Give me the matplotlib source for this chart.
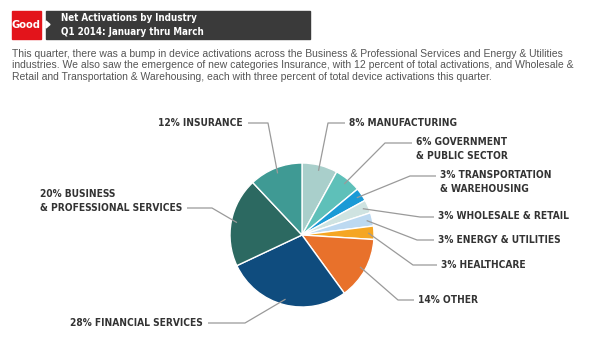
import matplotlib
matplotlib.use("Agg")
import matplotlib.pyplot as plt
from matplotlib import font_manager
import numpy as np
from matplotlib.patches import Rectangle, Polygon

# slices, clockwise from 12 o'clock
industries = ["MANUFACTURING", "GOVERNMENT\n& PUBLIC SECTOR", "TRANSPORTATION\n& WAREHOUSING",
              "WHOLESALE & RETAIL", "ENERGY & UTILITIES", "HEALTHCARE", "OTHER",
              "FINANCIAL SERVICES", "BUSINESS\n& PROFESSIONAL SERVICES", "INSURANCE"]
shares = [8, 6, 3, 3, 3, 3, 14, 28, 20, 12]
colours = ["#a9cfcb", "#5ec0b9", "#1a9ad6", "#cfe3e1", "#bcd9f1", "#f5a623",
           "#e8712b", "#0f4c7e", "#2c6961", "#3f9a94"]

title = "Net Activations by Industry"
subtitle = "Q1 2014: January thru March"
blurb = ["This quarter, there was a bump in device activations across the Business & Professional Services and Energy & Utilities",
         "industries. We also saw the emergence of new categories Insurance, with 12 percent of total activations, and Wholesale &",
         "Retail and Transportation & Warehousing, each with three percent of total device activations this quarter."]

# pick a bold narrow font file if there is one
bold_file = None
cands = [f for f in font_manager.fontManager.ttflist
         if ("Narrow" in f.name or "Condensed" in f.name or "Condensed" in f.fname)
         and f.style == "normal"]
cands.sort(key=lambda f: abs((f.weight if isinstance(f.weight, int) else 700) - 700))
if cands:
    bold_file = cands[0].fname


def bold(size):
    if bold_file:
        return font_manager.FontProperties(fname=bold_file, size=size)
    return font_manager.FontProperties(family="Roboto", weight="bold", size=size - 0.8)


W, H = 600, 348
fig = plt.figure(figsize=(6, 3.48), dpi=100)
ax = fig.add_axes([0, 0, 1, 1])


def fy(y):
    # image rows (top = 0) -> axes y
    return H - y


cx, cy, R = 302, fy(235), 72
wedges, _ = ax.pie(shares, colors=colours, startangle=90, counterclock=False,
                   center=(cx, cy), radius=R,
                   wedgeprops=dict(edgecolor="white", linewidth=1))
ax.set_xlim(0, W)
ax.set_ylim(0, H)
ax.set_aspect("equal")
ax.axis("off")

# header
ax.add_patch(Rectangle((12, fy(39)), 29, 28, color="#e3141b"))
ax.text(26.5, fy(25), "Good", color="white", fontproperties=bold(8),
        ha="center", va="center")
ax.add_patch(Rectangle((46, fy(39)), 264, 28, color="#3a3a3a"))
ax.add_patch(Polygon([(46, fy(21)), (50, fy(24.5)), (46, fy(28))], color="white"))
ax.text(61, fy(18), title, color="white", fontproperties=bold(7), va="center")
ax.text(61, fy(32), subtitle, color="white", fontproperties=bold(7), va="center")
for i, line in enumerate(blurb):
    ax.text(12, fy(54 + 11.5 * i), line, color="#555555", fontsize=7.5,
            family="Liberation Sans", va="center")

# label layout: text anchor x, y (image px), alignment, elbow x, line y
layout = [
    (349, 123, "left", 328, 123),
    (416, 143, "left", 385, 143),
    (440, 176, "left", 410, 176),
    (438, 216, "left", 420, 217),
    (438, 240, "left", 417, 240),
    (441, 265, "left", 413, 265),
    (418, 300, "left", 398, 300),
    (203, 323, "right", 245, 323),
    (40, 195, "left", 212, 208),
    (243, 123, "right", 268, 123),
]

for w, name, share, (tx, ty, ha, ex, ly) in zip(wedges, industries, shares, layout):
    mid = np.deg2rad((w.theta1 + w.theta2) / 2)
    px, py = cx + 0.92 * R * np.cos(mid), cy + 0.92 * R * np.sin(mid)
    label = f"{share}% {name}"
    if "\n" in name:
        ax.text(tx, fy(ty) + 6, label, fontproperties=bold(7.3), color="#333333",
                ha=ha, va="top", linespacing=1.55)
    else:
        ax.text(tx, fy(ty), label, fontproperties=bold(7.3), color="#333333",
                ha=ha, va="center")
    if name.startswith("BUSINESS"):
        start = 187
    elif ha == "left":
        start = tx - 4
    else:
        start = tx + 5
    ax.plot([start, ex, px], [fy(ly), fy(ly), py], color="#9a9a9a", linewidth=0.9,
            solid_capstyle="butt")

fig.savefig("out.png", dpi=100, facecolor="white")
